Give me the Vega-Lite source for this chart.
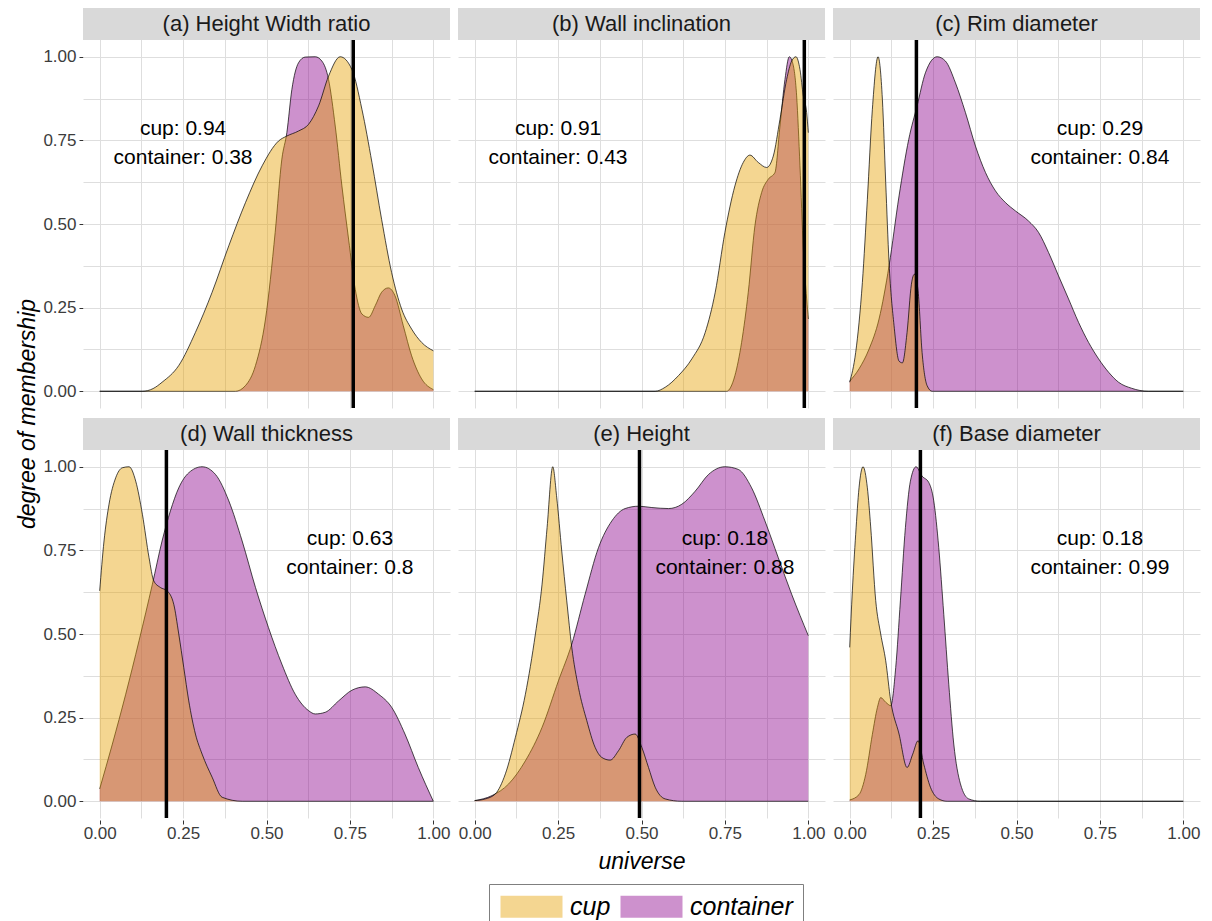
{
  "$schema": "https://vega.github.io/schema/vega-lite/v6.json",
  "padding": {"left": 16, "top": 8, "right": 5, "bottom": 5},
  "background": "white",
  "datasets": {
    "pinfo": [
      {"p":"a","r":1,"c":1},{"p":"b","r":1,"c":2},{"p":"c","r":1,"c":3},
      {"p":"d","r":2,"c":1},{"p":"e","r":2,"c":2},{"p":"f","r":2,"c":3}
    ]
  },
  "data": {"values": [
      {"p":"a","k":"panel","title":"(a) Height Width ratio","vx":0.76,"nx":0.25,"ny":0.75,"note":"cup: 0.94\ncontainer: 0.38"},
      {"p":"b","k":"panel","title":"(b) Wall inclination","vx":0.988,"nx":0.25,"ny":0.75,"note":"cup: 0.91\ncontainer: 0.43"},
      {"p":"c","k":"panel","title":"(c) Rim diameter","vx":0.2,"nx":0.75,"ny":0.75,"note":"cup: 0.29\ncontainer: 0.84"},
      {"p":"d","k":"panel","title":"(d) Wall thickness","vx":0.2,"nx":0.75,"ny":0.75,"note":"cup: 0.63\ncontainer: 0.8"},
      {"p":"e","k":"panel","title":"(e) Height","vx":0.494,"nx":0.75,"ny":0.75,"note":"cup: 0.18\ncontainer: 0.88"},
      {"p":"f","k":"panel","title":"(f) Base diameter","vx":0.212,"nx":0.75,"ny":0.75,"note":"cup: 0.18\ncontainer: 0.99"},
      {"p":"a","k":"cup","x":0,"y":0},{"p":"a","k":"cup","x":0.128,"y":0},{"p":"a","k":"cup","x":0.16,"y":0.008},{"p":"a","k":"cup","x":0.187,"y":0.027},{"p":"a","k":"cup","x":0.237,"y":0.077},{"p":"a","k":"cup","x":0.287,"y":0.176},{"p":"a","k":"cup","x":0.337,"y":0.296},{"p":"a","k":"cup","x":0.387,"y":0.435},{"p":"a","k":"cup","x":0.437,"y":0.564},{"p":"a","k":"cup","x":0.487,"y":0.674},{"p":"a","k":"cup","x":0.536,"y":0.748},{"p":"a","k":"cup","x":0.561,"y":0.763},{"p":"a","k":"cup","x":0.596,"y":0.778},{"p":"a","k":"cup","x":0.626,"y":0.798},{"p":"a","k":"cup","x":0.656,"y":0.853},{"p":"a","k":"cup","x":0.686,"y":0.942},{"p":"a","k":"cup","x":0.721,"y":1.0},{"p":"a","k":"cup","x":0.756,"y":0.962},{"p":"a","k":"cup","x":0.786,"y":0.843},{"p":"a","k":"cup","x":0.816,"y":0.684},{"p":"a","k":"cup","x":0.845,"y":0.514},{"p":"a","k":"cup","x":0.875,"y":0.355},{"p":"a","k":"cup","x":0.905,"y":0.246},{"p":"a","k":"cup","x":0.935,"y":0.186},{"p":"a","k":"cup","x":0.965,"y":0.146},{"p":"a","k":"cup","x":1.0,"y":0.121},
      {"p":"b","k":"cup","x":0,"y":0},{"p":"b","k":"cup","x":0.541,"y":0},{"p":"b","k":"cup","x":0.571,"y":0.012},{"p":"b","k":"cup","x":0.611,"y":0.047},{"p":"b","k":"cup","x":0.651,"y":0.097},{"p":"b","k":"cup","x":0.691,"y":0.176},{"p":"b","k":"cup","x":0.721,"y":0.296},{"p":"b","k":"cup","x":0.75,"y":0.475},{"p":"b","k":"cup","x":0.78,"y":0.614},{"p":"b","k":"cup","x":0.805,"y":0.684},{"p":"b","k":"cup","x":0.825,"y":0.706},{"p":"b","k":"cup","x":0.85,"y":0.684},{"p":"b","k":"cup","x":0.875,"y":0.669},{"p":"b","k":"cup","x":0.895,"y":0.703},{"p":"b","k":"cup","x":0.915,"y":0.813},{"p":"b","k":"cup","x":0.935,"y":0.932},{"p":"b","k":"cup","x":0.95,"y":0.987},{"p":"b","k":"cup","x":0.963,"y":1.0},{"p":"b","k":"cup","x":0.975,"y":0.962},{"p":"b","k":"cup","x":0.985,"y":0.883},{"p":"b","k":"cup","x":0.995,"y":0.833},{"p":"b","k":"cup","x":1.0,"y":0.773},
      {"p":"c","k":"cup","x":0,"y":0.027},{"p":"c","k":"cup","x":0.018,"y":0.116},{"p":"c","k":"cup","x":0.038,"y":0.325},{"p":"c","k":"cup","x":0.053,"y":0.574},{"p":"c","k":"cup","x":0.068,"y":0.843},{"p":"c","k":"cup","x":0.085,"y":1.0},{"p":"c","k":"cup","x":0.098,"y":0.873},{"p":"c","k":"cup","x":0.108,"y":0.624},{"p":"c","k":"cup","x":0.118,"y":0.385},{"p":"c","k":"cup","x":0.133,"y":0.196},{"p":"c","k":"cup","x":0.148,"y":0.09},{"p":"c","k":"cup","x":0.158,"y":0.085},{"p":"c","k":"cup","x":0.172,"y":0.176},{"p":"c","k":"cup","x":0.185,"y":0.32},{"p":"c","k":"cup","x":0.194,"y":0.35},{"p":"c","k":"cup","x":0.205,"y":0.3},{"p":"c","k":"cup","x":0.217,"y":0.116},{"p":"c","k":"cup","x":0.232,"y":0.017},{"p":"c","k":"cup","x":0.247,"y":0},{"p":"c","k":"cup","x":1.0,"y":0},
      {"p":"d","k":"cup","x":0,"y":0.629},{"p":"d","k":"cup","x":0.013,"y":0.778},{"p":"d","k":"cup","x":0.028,"y":0.888},{"p":"d","k":"cup","x":0.048,"y":0.967},{"p":"d","k":"cup","x":0.068,"y":0.997},{"p":"d","k":"cup","x":0.088,"y":1.0},{"p":"d","k":"cup","x":0.108,"y":0.957},{"p":"d","k":"cup","x":0.128,"y":0.858},{"p":"d","k":"cup","x":0.148,"y":0.728},{"p":"d","k":"cup","x":0.162,"y":0.659},{"p":"d","k":"cup","x":0.182,"y":0.639},{"p":"d","k":"cup","x":0.202,"y":0.629},{"p":"d","k":"cup","x":0.222,"y":0.589},{"p":"d","k":"cup","x":0.237,"y":0.5},{"p":"d","k":"cup","x":0.252,"y":0.4},{"p":"d","k":"cup","x":0.267,"y":0.3},{"p":"d","k":"cup","x":0.287,"y":0.201},{"p":"d","k":"cup","x":0.307,"y":0.141},{"p":"d","k":"cup","x":0.337,"y":0.072},{"p":"d","k":"cup","x":0.367,"y":0.012},{"p":"d","k":"cup","x":0.427,"y":0},{"p":"d","k":"cup","x":1.0,"y":0},
      {"p":"e","k":"cup","x":0,"y":0.002},{"p":"e","k":"cup","x":0.032,"y":0.007},{"p":"e","k":"cup","x":0.062,"y":0.022},{"p":"e","k":"cup","x":0.092,"y":0.082},{"p":"e","k":"cup","x":0.122,"y":0.191},{"p":"e","k":"cup","x":0.152,"y":0.32},{"p":"e","k":"cup","x":0.182,"y":0.5},{"p":"e","k":"cup","x":0.202,"y":0.649},{"p":"e","k":"cup","x":0.217,"y":0.818},{"p":"e","k":"cup","x":0.234,"y":1.0},{"p":"e","k":"cup","x":0.246,"y":0.907},{"p":"e","k":"cup","x":0.261,"y":0.748},{"p":"e","k":"cup","x":0.276,"y":0.599},{"p":"e","k":"cup","x":0.291,"y":0.46},{"p":"e","k":"cup","x":0.311,"y":0.34},{"p":"e","k":"cup","x":0.336,"y":0.241},{"p":"e","k":"cup","x":0.361,"y":0.161},{"p":"e","k":"cup","x":0.381,"y":0.131},{"p":"e","k":"cup","x":0.406,"y":0.123},{"p":"e","k":"cup","x":0.431,"y":0.151},{"p":"e","k":"cup","x":0.456,"y":0.191},{"p":"e","k":"cup","x":0.481,"y":0.201},{"p":"e","k":"cup","x":0.501,"y":0.161},{"p":"e","k":"cup","x":0.521,"y":0.101},{"p":"e","k":"cup","x":0.541,"y":0.042},{"p":"e","k":"cup","x":0.571,"y":0.007},{"p":"e","k":"cup","x":0.621,"y":0},{"p":"e","k":"cup","x":1.0,"y":0},
      {"p":"f","k":"cup","x":0,"y":0.46},{"p":"f","k":"cup","x":0.008,"y":0.629},{"p":"f","k":"cup","x":0.018,"y":0.798},{"p":"f","k":"cup","x":0.028,"y":0.937},{"p":"f","k":"cup","x":0.04,"y":1.0},{"p":"f","k":"cup","x":0.053,"y":0.937},{"p":"f","k":"cup","x":0.063,"y":0.82},{"p":"f","k":"cup","x":0.078,"y":0.6},{"p":"f","k":"cup","x":0.093,"y":0.5},{"p":"f","k":"cup","x":0.108,"y":0.42},{"p":"f","k":"cup","x":0.123,"y":0.3},{"p":"f","k":"cup","x":0.148,"y":0.201},{"p":"f","k":"cup","x":0.172,"y":0.101},{"p":"f","k":"cup","x":0.189,"y":0.141},{"p":"f","k":"cup","x":0.205,"y":0.181},{"p":"f","k":"cup","x":0.222,"y":0.111},{"p":"f","k":"cup","x":0.242,"y":0.042},{"p":"f","k":"cup","x":0.267,"y":0.007},{"p":"f","k":"cup","x":0.292,"y":0},{"p":"f","k":"cup","x":1.0,"y":0},
      {"p":"a","k":"container","x":0,"y":0},{"p":"a","k":"container","x":0.407,"y":0},{"p":"a","k":"container","x":0.437,"y":0.017},{"p":"a","k":"container","x":0.467,"y":0.077},{"p":"a","k":"container","x":0.497,"y":0.216},{"p":"a","k":"container","x":0.526,"y":0.475},{"p":"a","k":"container","x":0.546,"y":0.694},{"p":"a","k":"container","x":0.561,"y":0.773},{"p":"a","k":"container","x":0.576,"y":0.902},{"p":"a","k":"container","x":0.596,"y":0.982},{"p":"a","k":"container","x":0.616,"y":0.999},{"p":"a","k":"container","x":0.646,"y":1.0},{"p":"a","k":"container","x":0.666,"y":0.987},{"p":"a","k":"container","x":0.686,"y":0.932},{"p":"a","k":"container","x":0.706,"y":0.793},{"p":"a","k":"container","x":0.726,"y":0.614},{"p":"a","k":"container","x":0.746,"y":0.455},{"p":"a","k":"container","x":0.766,"y":0.305},{"p":"a","k":"container","x":0.786,"y":0.231},{"p":"a","k":"container","x":0.806,"y":0.221},{"p":"a","k":"container","x":0.826,"y":0.256},{"p":"a","k":"container","x":0.845,"y":0.296},{"p":"a","k":"container","x":0.865,"y":0.309},{"p":"a","k":"container","x":0.885,"y":0.286},{"p":"a","k":"container","x":0.91,"y":0.196},{"p":"a","k":"container","x":0.935,"y":0.106},{"p":"a","k":"container","x":0.965,"y":0.037},{"p":"a","k":"container","x":1.0,"y":0.005},
      {"p":"b","k":"container","x":0,"y":0},{"p":"b","k":"container","x":0.755,"y":0},{"p":"b","k":"container","x":0.78,"y":0.047},{"p":"b","k":"container","x":0.8,"y":0.146},{"p":"b","k":"container","x":0.82,"y":0.296},{"p":"b","k":"container","x":0.84,"y":0.495},{"p":"b","k":"container","x":0.86,"y":0.594},{"p":"b","k":"container","x":0.88,"y":0.634},{"p":"b","k":"container","x":0.9,"y":0.654},{"p":"b","k":"container","x":0.915,"y":0.793},{"p":"b","k":"container","x":0.93,"y":0.932},{"p":"b","k":"container","x":0.943,"y":1.0},{"p":"b","k":"container","x":0.953,"y":0.982},{"p":"b","k":"container","x":0.965,"y":0.883},{"p":"b","k":"container","x":0.975,"y":0.674},{"p":"b","k":"container","x":0.985,"y":0.425},{"p":"b","k":"container","x":0.995,"y":0.276},{"p":"b","k":"container","x":1.0,"y":0.216},
      {"p":"c","k":"container","x":0,"y":0.03},{"p":"c","k":"container","x":0.028,"y":0.067},{"p":"c","k":"container","x":0.058,"y":0.126},{"p":"c","k":"container","x":0.088,"y":0.216},{"p":"c","k":"container","x":0.118,"y":0.375},{"p":"c","k":"container","x":0.148,"y":0.584},{"p":"c","k":"container","x":0.177,"y":0.753},{"p":"c","k":"container","x":0.202,"y":0.853},{"p":"c","k":"container","x":0.227,"y":0.952},{"p":"c","k":"container","x":0.262,"y":1.0},{"p":"c","k":"container","x":0.287,"y":0.987},{"p":"c","k":"container","x":0.317,"y":0.922},{"p":"c","k":"container","x":0.347,"y":0.833},{"p":"c","k":"container","x":0.377,"y":0.733},{"p":"c","k":"container","x":0.407,"y":0.654},{"p":"c","k":"container","x":0.437,"y":0.599},{"p":"c","k":"container","x":0.467,"y":0.564},{"p":"c","k":"container","x":0.497,"y":0.539},{"p":"c","k":"container","x":0.536,"y":0.509},{"p":"c","k":"container","x":0.566,"y":0.475},{"p":"c","k":"container","x":0.596,"y":0.415},{"p":"c","k":"container","x":0.626,"y":0.345},{"p":"c","k":"container","x":0.656,"y":0.276},{"p":"c","k":"container","x":0.686,"y":0.206},{"p":"c","k":"container","x":0.716,"y":0.146},{"p":"c","k":"container","x":0.746,"y":0.097},{"p":"c","k":"container","x":0.776,"y":0.057},{"p":"c","k":"container","x":0.806,"y":0.027},{"p":"c","k":"container","x":0.845,"y":0.009},{"p":"c","k":"container","x":0.895,"y":0},{"p":"c","k":"container","x":1.0,"y":0},
      {"p":"d","k":"container","x":0,"y":0.037},{"p":"d","k":"container","x":0.038,"y":0.171},{"p":"d","k":"container","x":0.078,"y":0.32},{"p":"d","k":"container","x":0.118,"y":0.48},{"p":"d","k":"container","x":0.158,"y":0.649},{"p":"d","k":"container","x":0.187,"y":0.778},{"p":"d","k":"container","x":0.212,"y":0.868},{"p":"d","k":"container","x":0.237,"y":0.937},{"p":"d","k":"container","x":0.267,"y":0.982},{"p":"d","k":"container","x":0.307,"y":1.0},{"p":"d","k":"container","x":0.347,"y":0.977},{"p":"d","k":"container","x":0.387,"y":0.898},{"p":"d","k":"container","x":0.427,"y":0.778},{"p":"d","k":"container","x":0.467,"y":0.639},{"p":"d","k":"container","x":0.506,"y":0.519},{"p":"d","k":"container","x":0.546,"y":0.41},{"p":"d","k":"container","x":0.586,"y":0.32},{"p":"d","k":"container","x":0.626,"y":0.271},{"p":"d","k":"container","x":0.646,"y":0.261},{"p":"d","k":"container","x":0.676,"y":0.266},{"p":"d","k":"container","x":0.716,"y":0.3},{"p":"d","k":"container","x":0.756,"y":0.332},{"p":"d","k":"container","x":0.796,"y":0.342},{"p":"d","k":"container","x":0.836,"y":0.32},{"p":"d","k":"container","x":0.875,"y":0.281},{"p":"d","k":"container","x":0.915,"y":0.201},{"p":"d","k":"container","x":0.955,"y":0.101},{"p":"d","k":"container","x":1.0,"y":0},
      {"p":"e","k":"container","x":0,"y":0.002},{"p":"e","k":"container","x":0.052,"y":0.017},{"p":"e","k":"container","x":0.102,"y":0.052},{"p":"e","k":"container","x":0.152,"y":0.121},{"p":"e","k":"container","x":0.202,"y":0.221},{"p":"e","k":"container","x":0.251,"y":0.36},{"p":"e","k":"container","x":0.291,"y":0.47},{"p":"e","k":"container","x":0.331,"y":0.619},{"p":"e","k":"container","x":0.371,"y":0.758},{"p":"e","k":"container","x":0.411,"y":0.838},{"p":"e","k":"container","x":0.451,"y":0.875},{"p":"e","k":"container","x":0.491,"y":0.882},{"p":"e","k":"container","x":0.531,"y":0.878},{"p":"e","k":"container","x":0.581,"y":0.875},{"p":"e","k":"container","x":0.621,"y":0.888},{"p":"e","k":"container","x":0.661,"y":0.927},{"p":"e","k":"container","x":0.701,"y":0.977},{"p":"e","k":"container","x":0.75,"y":1.0},{"p":"e","k":"container","x":0.79,"y":0.992},{"p":"e","k":"container","x":0.83,"y":0.937},{"p":"e","k":"container","x":0.87,"y":0.838},{"p":"e","k":"container","x":0.91,"y":0.728},{"p":"e","k":"container","x":0.95,"y":0.619},{"p":"e","k":"container","x":1.0,"y":0.495},
      {"p":"f","k":"container","x":0,"y":0.004},{"p":"f","k":"container","x":0.028,"y":0.02},{"p":"f","k":"container","x":0.048,"y":0.08},{"p":"f","k":"container","x":0.068,"y":0.2},{"p":"f","k":"container","x":0.083,"y":0.28},{"p":"f","k":"container","x":0.093,"y":0.31},{"p":"f","k":"container","x":0.108,"y":0.296},{"p":"f","k":"container","x":0.123,"y":0.286},{"p":"f","k":"container","x":0.138,"y":0.4},{"p":"f","k":"container","x":0.152,"y":0.599},{"p":"f","k":"container","x":0.167,"y":0.818},{"p":"f","k":"container","x":0.182,"y":0.957},{"p":"f","k":"container","x":0.199,"y":1.0},{"p":"f","k":"container","x":0.217,"y":0.972},{"p":"f","k":"container","x":0.237,"y":0.953},{"p":"f","k":"container","x":0.252,"y":0.898},{"p":"f","k":"container","x":0.267,"y":0.758},{"p":"f","k":"container","x":0.282,"y":0.559},{"p":"f","k":"container","x":0.297,"y":0.35},{"p":"f","k":"container","x":0.312,"y":0.171},{"p":"f","k":"container","x":0.332,"y":0.052},{"p":"f","k":"container","x":0.357,"y":0.007},{"p":"f","k":"container","x":0.392,"y":0},{"p":"f","k":"container","x":1.0,"y":0}
  ]},
  "transform": [
    {"lookup": "p", "from": {"data": {"name": "pinfo"}, "key": "p", "fields": ["r", "c"]}}
  ],
  "facet": {
    "row": {"field": "r", "type": "ordinal", "header": {"title": "degree of membership", "labels": false, "titlePadding": -8, "labelPadding": 0}},
    "column": {"field": "c", "type": "ordinal", "header": {"title": "universe", "labels": false, "titleOrient": "bottom", "titlePadding": 0, "labelPadding": 0}}
  },
  "spacing": {"row": 8, "column": 8},
  "spec": {
    "width": 367,
    "height": 400,
    "layer": [
      {"transform": [{"filter": "datum.k == 'container'"}],
       "mark": {"type": "area", "interpolate": "monotone", "opacity": 0.43},
       "encoding": {
         "x": {"field": "x", "type": "quantitative", "scale": {"domain": [-0.05, 1.05], "nice": false, "zero": false},
               "axis": {"title": null, "grid": true, "values": [0,0.125,0.25,0.375,0.5,0.625,0.75,0.875,1],
                        "labelExpr": "round(datum.value*8)%2==0 ? format(datum.value, '.2f') : ''",
                        "tickOpacity": {"condition": {"test": "round(datum.value*8)%2==0", "value": 1}, "value": 0},
                        "labelOverlap": false, "labelFlush": false, "labelBound": false, "labelPadding": 1}},
         "y": {"field": "y", "type": "quantitative", "stack": null, "scale": {"domain": [-0.05, 1.1457], "nice": false, "zero": false},
               "axis": {"title": null, "grid": true, "values": [0,0.125,0.25,0.375,0.5,0.625,0.75,0.875,1],
                        "labelExpr": "round(datum.value*8)%2==0 ? format(datum.value, '.2f') : ''",
                        "tickOpacity": {"condition": {"test": "round(datum.value*8)%2==0", "value": 1}, "value": 0},
                        "labelOverlap": false, "labelFlush": false, "labelBound": false, "labelPadding": 3}},
         "color": {"field": "k", "type": "nominal", "scale": {"domain": ["cup", "container"], "range": ["#E69F00", "#8B008B"]},
                   "legend": {"title": null, "orient": "none", "legendX": 406, "legendY": 876}}
       }},
      {"transform": [{"filter": "datum.k == 'container'"}],
       "mark": {"type": "line", "interpolate": "monotone", "color": "black", "strokeWidth": 0.7},
       "encoding": {"x": {"field": "x", "type": "quantitative"}, "y": {"field": "y", "type": "quantitative"}}},
      {"transform": [{"filter": "datum.k == 'cup'"}],
       "mark": {"type": "area", "interpolate": "monotone", "opacity": 0.43},
       "encoding": {"x": {"field": "x", "type": "quantitative"}, "y": {"field": "y", "type": "quantitative", "stack": null},
                    "color": {"field": "k", "type": "nominal"}}},
      {"transform": [{"filter": "datum.k == 'cup'"}],
       "mark": {"type": "line", "interpolate": "monotone", "color": "black", "strokeWidth": 0.7},
       "encoding": {"x": {"field": "x", "type": "quantitative"}, "y": {"field": "y", "type": "quantitative"}}},
      {"transform": [{"filter": "datum.k == 'panel'"}],
       "mark": {"type": "rect", "color": "#D9D9D9"},
       "encoding": {"x": {"datum": -0.05, "type": "quantitative"}, "x2": {"datum": 1.05},
                    "y": {"datum": 1.05, "type": "quantitative"}, "y2": {"datum": 1.1457}}},
      {"transform": [{"filter": "datum.k == 'panel'"}],
       "mark": {"type": "text", "fontSize": 22, "color": "#1A1A1A", "font": "Liberation Sans", "baseline": "middle"},
       "encoding": {"x": {"datum": 0.5, "type": "quantitative"}, "y": {"datum": 1.098, "type": "quantitative"}, "text": {"field": "title"}}},
      {"transform": [{"filter": "datum.k == 'panel'"}],
       "mark": {"type": "rule", "color": "black", "strokeWidth": 3.5},
       "encoding": {"x": {"field": "vx", "type": "quantitative"}, "y": {"datum": -0.05, "type": "quantitative"}, "y2": {"datum": 1.05}}},
      {"transform": [{"filter": "datum.k == 'panel'"}],
       "mark": {"type": "text", "fontSize": 21, "color": "black", "font": "Liberation Sans", "lineBreak": "\n", "lineHeight": 29, "baseline": "middle", "dy": -11},
       "encoding": {"x": {"field": "nx", "type": "quantitative"}, "y": {"field": "ny", "type": "quantitative"}, "text": {"field": "note"}}}
    ]
  },
  "config": {
    "view": {"stroke": null},
    "font": "Liberation Sans",
    "axis": {"domain": false, "gridColor": "#DEDEDE", "gridWidth": 1, "tickColor": "#333333", "tickSize": 4,
             "labelFont": "Liberation Sans", "labelFontSize": 17, "labelColor": "#3C3C3C"},
    "header": {"titleFont": "Liberation Sans", "titleFontSize": 23, "titleFontStyle": "italic", "titleFontWeight": "normal", "titleColor": "black"},
    "legend": {"direction": "horizontal", "labelFont": "Liberation Sans", "labelFontSize": 25, "labelFontStyle": "italic",
               "labelColor": "black", "symbolType": "M-2.818,-1H2.818V1H-2.818Z", "symbolSize": 484, "symbolStrokeWidth": 0,
               "symbolOffset": 20, "symbolOpacity": 0.43, "strokeColor": "#7F7F7F", "padding": 10, "labelOffset": 26, "columnPadding": 8}
  }
}
